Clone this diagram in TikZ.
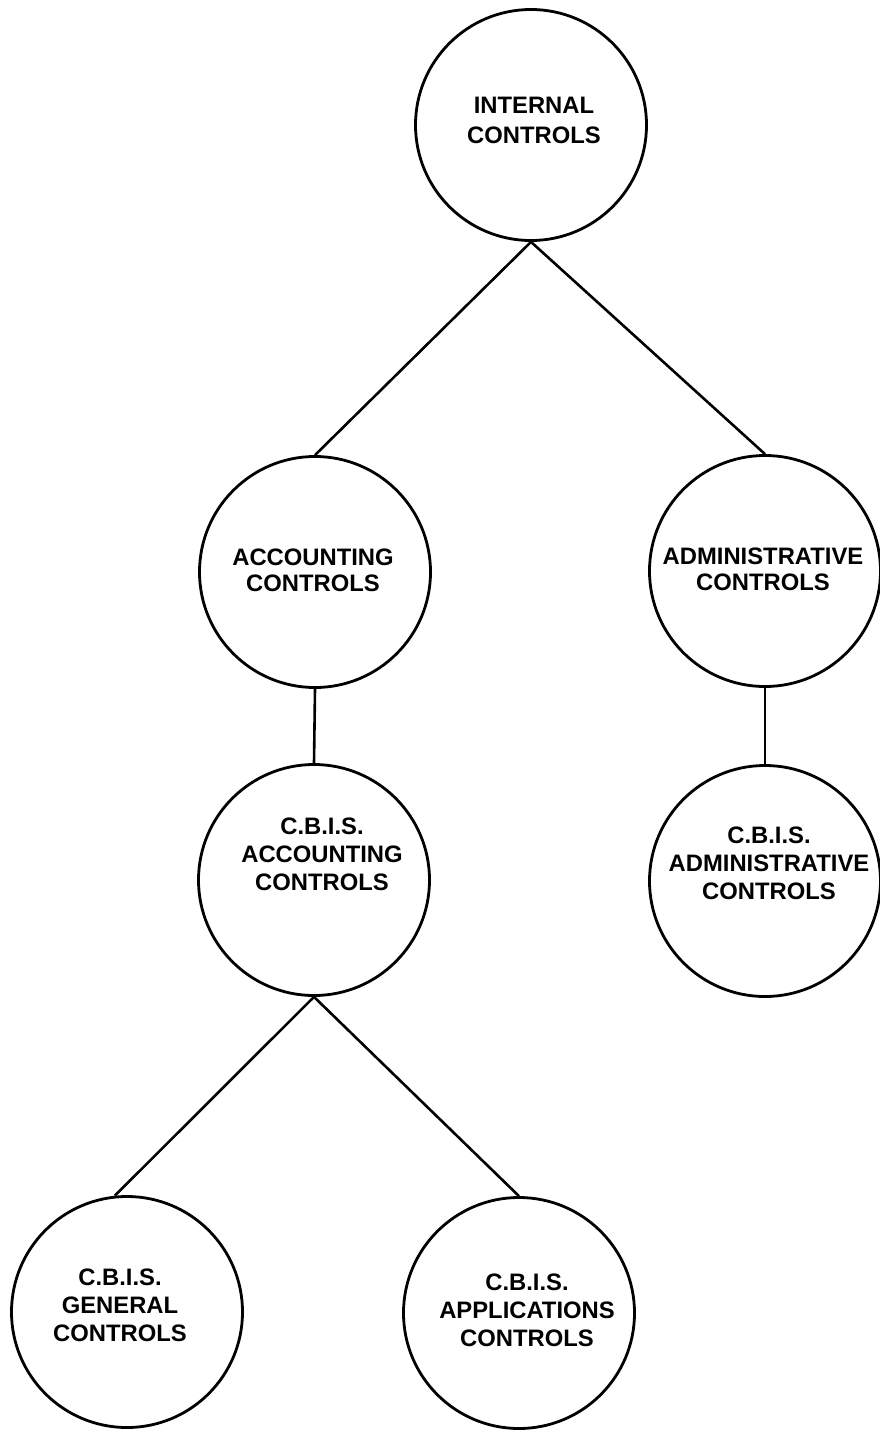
\documentclass[tikz,border=0pt]{standalone}
\usepackage{fontspec}
\newfontfamily\lab{Liberation Sans}
\begin{document}
\begin{tikzpicture}[x=1pt,y=-1pt,
  ctl/.style={circle, draw=black, line width=2.8pt, minimum size=231pt, inner sep=0pt},
  lbl/.style={align=center, inner sep=0pt, font={\lab\bfseries\fontsize{23.8}{28}\selectfont}},
  link/.style={draw=black, line width=2.6pt}]
\useasboundingbox (0,0) rectangle (879,1430);
\node[ctl, label={[lbl, xshift=3pt, yshift=5pt]center:{INTERNAL\\[2pt]CONTROLS}}] (c1) at (531,125) {};
\node[ctl, label={[lbl, xshift=-2pt, yshift=1.5pt]center:{ACCOUNTING\\[-2pt]CONTROLS}}] (c2) at (315,572) {};
\node[ctl, label={[lbl, xshift=-2pt, yshift=1.5pt]center:{ADMINISTRATIVE\\[-2pt]CONTROLS}}] (c3) at (765,571) {};
\node[ctl, label={[lbl, xshift=8pt, yshift=26pt]center:{C.B.I.S.\\ACCOUNTING\\CONTROLS}}] (c4) at (314,880) {};
\node[ctl, label={[lbl, xshift=4pt, yshift=18pt]center:{C.B.I.S.\\ADMINISTRATIVE\\CONTROLS}}] (c5) at (765,881) {};
\node[ctl, label={[lbl, xshift=-7pt, yshift=7pt]center:{C.B.I.S.\\GENERAL\\CONTROLS}}] (c6) at (127,1312) {};
\node[ctl, label={[lbl, xshift=8pt, yshift=3pt]center:{C.B.I.S.\\APPLICATIONS\\CONTROLS}}] (c7) at (519,1313) {};
\draw[link] (c1.south) -- (c2.north);
\draw[link] (c1.south) -- (c3.north);
\draw[link] (c2.south) -- (c4.north);
\draw[link] (c3.south) -- (c5.north);
\draw[link] (c4.south) -- (c6.96);
\draw[link] (c4.south) -- (c7.north);
\end{tikzpicture}
\end{document}
